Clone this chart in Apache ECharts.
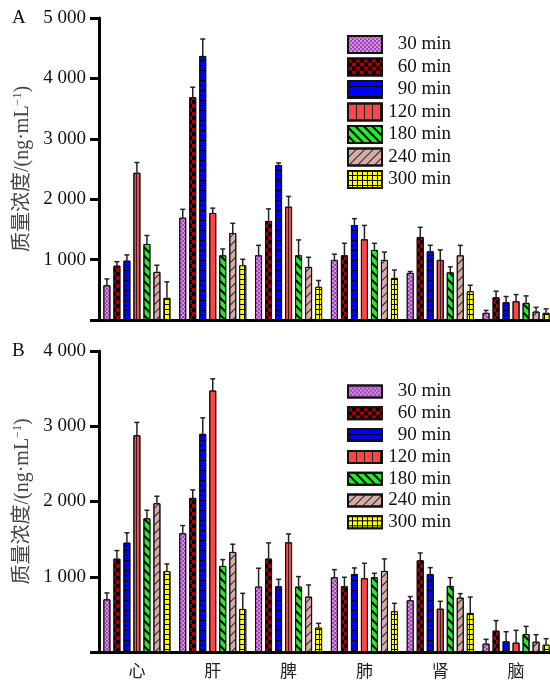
<!DOCTYPE html>
<html>
<head>
<meta charset="utf-8">
<script src="https://cdn.jsdelivr.net/npm/echarts@6/dist/echarts.min.js"></script>
<style>
  html, body { margin: 0; padding: 0; background: #fff; }
  #chart { width: 550px; height: 681px; }
</style>
</head>
<body>
<div id="chart"></div>
<script>
// 组织分布数据 (平均值 / 标准差)
var categories = ['心', '肝', '脾', '肺', '肾', '脑'];
var times = ['30 min', '60 min', '90 min', '120 min', '180 min', '240 min', '300 min'];
var yTicksA = [0, 1000, 2000, 3000, 4000, 5000];
var yTicksB = [0, 1000, 2000, 3000, 4000];

// A
var a30  = [575, 1694, 1071, 995, 780, 119];
var a60  = [900, 3689, 1640, 1071, 1375, 377];
var a90  = [983, 4372, 2565, 1573, 1137, 294];
var a120 = [2438, 1772, 1876, 1336, 995, 311];
var a180 = [1259, 1071, 1071, 1160, 790, 284];
var a240 = [797, 1441, 879, 995, 1071, 140];
var a300 = [367, 906, 549, 697, 476, 119];
var aErr30  = [105, 138, 165, 95, 22, 40];
var aErr60  = [65, 165, 200, 200, 160, 100];
var aErr90  = [95, 280, 35, 105, 100, 95];
var aErr120 = [170, 80, 170, 230, 165, 110];
var aErr180 = [140, 105, 255, 110, 90, 115];
var aErr240 = [110, 160, 160, 130, 165, 70];
var aErr300 = [265, 100, 105, 130, 100, 65];

// B
var b30  = [700, 1578, 869, 993, 687, 111];
var b60  = [1241, 2048, 1241, 873, 1219, 284];
var b90  = [1454, 2899, 873, 1037, 1037, 142];
var b120 = [2881, 3475, 1458, 980, 576, 124];
var b180 = [1777, 1144, 869, 993, 878, 239];
var b240 = [1977, 1330, 736, 1077, 723, 137];
var b300 = [1075, 572, 324, 541, 519, 98];
var bErr30  = [85, 102, 244, 102, 49, 57];
var bErr60  = [107, 106, 209, 120, 97, 133];
var bErr90  = [130, 213, 93, 80, 84, 128];
var bErr120 = [170, 155, 111, 199, 98, 164];
var bErr180 = [107, 84, 133, 53, 110, 102];
var bErr240 = [93, 102, 155, 160, 53, 93];
var bErr300 = [95, 208, 57, 106, 212, 79];

var meansA = [a30, a60, a90, a120, a180, a240, a300];
var errsA = [aErr30, aErr60, aErr90, aErr120, aErr180, aErr240, aErr300];
var meansB = [b30, b60, b90, b120, b180, b240, b300];
var errsB = [bErr30, bErr60, bErr90, bErr120, bErr180, bErr240, bErr300];

var serif = '"Liberation Serif", "Noto Sans CJK SC", serif';
var BAR_W = 7, BAR_STEP = 10;

// 填充图案
var fills = [
  { color: '#dd8aee', decal: { symbol: 'rect', color: '#9a48aa', dashArrayX: [[2, 2], [0, 2, 2, 0]], dashArrayY: [2, 0], symbolSize: 1 } },
  { color: '#a80000', decal: { symbol: 'rect', color: '#000', dashArrayX: [[4, 4], [0, 4, 4, 0]], dashArrayY: [4, 0], symbolSize: 1 } },
  { color: '#0000ff', decal: { symbol: 'rect', color: '#000', dashArrayX: [1, 0], dashArrayY: [1, 4], symbolSize: 1 } },
  { color: '#ff4646', decal: { symbol: 'rect', color: '#222', dashArrayX: [1, 7], dashArrayY: [1, 0], symbolSize: 1 } },
  { color: '#22ee22', decal: { symbol: 'rect', color: '#000', dashArrayX: [1, 0], dashArrayY: [1.3, 3.7], rotation: Math.PI / 4, symbolSize: 1 } },
  { color: '#d8aca6', decal: { symbol: 'rect', color: '#222', dashArrayX: [1, 0], dashArrayY: [0.9, 4.1], rotation: -Math.PI / 4, symbolSize: 1 } },
  { color: '#ffff00', decal: { symbol: 'rect', color: '#ffff00', backgroundColor: '#000', dashArrayX: [4, 1], dashArrayY: [4, 1], symbolSize: 1 } }
];

function fmtTick(v) {
  if (v === 0) return '';
  return String(v).replace(/\B(?=(\d{3})+$)/g, ' ');
}

function errRender(k) {
  return function (params, api) {
    var c = api.value(0);
    var p0 = api.coord([c, api.value(1)]);
    var p1 = api.coord([c, api.value(2)]);
    var x = p0[0] + (k - 3) * BAR_STEP;
    return {
      type: 'group',
      children: [
        { type: 'line', shape: { x1: x, y1: p0[1], x2: x, y2: p1[1] }, style: { stroke: '#222', lineWidth: 1.5 } },
        { type: 'line', shape: { x1: x - 2.5, y1: p1[1], x2: x + 2.5, y2: p1[1] }, style: { stroke: '#222', lineWidth: 1.5 } }
      ]
    };
  };
}

function yAxisOf(gridIndex, ticks) {
  return {
    type: 'value', gridIndex: gridIndex,
    min: 0, max: ticks[ticks.length - 1], interval: ticks[1] - ticks[0],
    name: '{a|质量浓度/(ng·mL}{s|−1}{a|)}',
    nameLocation: 'middle', nameGap: 63, nameRotate: 90,
    nameTextStyle: {
      rich: {
        a: { fontFamily: serif, fontSize: 20, color: '#444', lineHeight: 22 },
        s: { fontFamily: serif, fontSize: 12, color: '#444', verticalAlign: 'top', lineHeight: 14 }
      }
    },
    axisLine: { show: true, lineStyle: { color: '#000', width: 3 } },
    axisTick: { show: true, length: 9, lineStyle: { color: '#000', width: 3 } },
    axisLabel: { formatter: fmtTick, fontFamily: serif, fontSize: 19, color: '#111', margin: 13 },
    splitLine: { show: false }
  };
}

function xAxisOf(gridIndex, showLabel) {
  return {
    type: 'category', gridIndex: gridIndex, data: categories,
    axisLine: { lineStyle: { color: '#000', width: 3 } },
    axisTick: { alignWithLabel: true, length: 9, lineStyle: { color: '#000', width: 3 } },
    axisLabel: { show: showLabel, fontFamily: serif, fontSize: 17, color: '#222', margin: 12 }
  };
}

var series = [];
[[meansA, errsA], [meansB, errsB]].forEach(function (panel, g) {
  panel[0].forEach(function (vals, k) {
    series.push({
      name: times[k], type: 'bar', xAxisIndex: g, yAxisIndex: g,
      data: vals, barWidth: BAR_W, barGap: '43%',
      itemStyle: { color: fills[k].color, decal: fills[k].decal, borderColor: '#111', borderWidth: 1 },
      emphasis: { disabled: true }
    });
  });
  panel[0].forEach(function (vals, k) {
    series.push({
      type: 'custom', xAxisIndex: g, yAxisIndex: g, silent: true, z: 3,
      renderItem: errRender(k),
      data: vals.map(function (v, i) { return [i, v, v + panel[1][k][i]]; })
    });
  });
});

function legendOf(top, h, gap) {
  return {
    data: times, orient: 'vertical', left: 347, top: top, padding: 0,
    icon: 'rect', itemWidth: 34, itemHeight: h, itemGap: gap,
    selectedMode: false,
    formatter: '{t|{name}}',
    textStyle: {
      rich: { t: { fontFamily: serif, fontSize: 19, color: '#111', width: 64, align: 'right', lineHeight: h } }
    }
  };
}

var option = {
  animation: false,
  backgroundColor: '#fff',
  grid: [
    { left: 99, top: 18, width: 455, height: 302, outerBoundsMode: 'none', containLabel: false },
    { left: 99, top: 351, width: 455, height: 301, outerBoundsMode: 'none', containLabel: false }
  ],
  legend: [legendOf(35, 17, 3.5), legendOf(382, 12, 2.8)],
  xAxis: [xAxisOf(0, false), xAxisOf(1, true)],
  yAxis: [yAxisOf(0, yTicksA), yAxisOf(1, yTicksB)],
  graphic: [
    { type: 'text', left: 12, top: 9, style: { text: 'A', font: '19px ' + serif, fill: '#111' } },
    { type: 'text', left: 12, top: 342, style: { text: 'B', font: '19px ' + serif, fill: '#111' } }
  ],
  series: series
};

var chart = echarts.init(document.getElementById('chart'));
chart.setOption(option);
</script>
</body>
</html>
